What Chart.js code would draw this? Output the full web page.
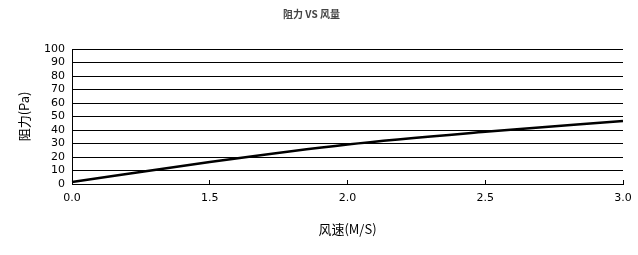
<!DOCTYPE html>
<html>
<head>
<meta charset="utf-8">
<script src="https://cdn.jsdelivr.net/npm/chart.js@4/dist/chart.umd.min.js"></script>
<style>
  html, body { margin: 0; padding: 0; background: #fff; }
  #wrap { width: 638px; height: 255px; }
</style>
</head>
<body>
<div id="wrap"><canvas id="chart"></canvas></div>
<script>
const speeds = ['0.0', '1.5', '2.0', '2.5', '3.0'];
const resistance = [1.5, 16.3, 29.3, 38.7, 46.7];
const yMin = 0;
const yMax = 100;
const yStep = 10;

const cjk = '"Noto Sans CJK SC", "DejaVu Sans", sans-serif';
const num = '"DejaVu Sans", sans-serif';

const ctx = document.getElementById('chart').getContext('2d');
const chart = new Chart(ctx, {
  type: 'line',
  data: {
    labels: speeds,
    datasets: [{
      label: '阻力',
      data: resistance,
      borderColor: '#000',
      backgroundColor: '#000',
      borderWidth: 2.5,
      pointRadius: 0,
      cubicInterpolationMode: 'monotone'
    }]
  },
  options: {
    responsive: true,
    maintainAspectRatio: false,
    animation: false,
    layout: { padding: { left: 0, right: 15, top: 0, bottom: 0 } },
    plugins: {
      legend: { display: false },
      tooltip: { enabled: false },
      title: {
        display: true,
        text: '阻力 VS 风量',
        color: '#444',
        font: { family: cjk, size: 10, weight: 'bold' },
        padding: { top: 8, bottom: 29 }
      }
    },
    scales: {
      x: {
        grid: {
          drawOnChartArea: false,
          color: '#000',
          tickLength: -4,
          lineWidth: 1
        },
        border: { color: '#000', width: 1 },
        ticks: {
          color: '#000',
          font: { family: num, size: 11 },
          padding: 12,
          maxRotation: 0,
          autoSkip: false
        },
        title: {
          display: true,
          text: '风速(M/S)',
          color: '#000',
          font: { family: cjk, size: 13 },
          padding: { top: 0, bottom: 18 }
        },
        afterFit(scale) {
          scale.height = 71;
          scale.paddingLeft = 0;
          scale.paddingRight = 0;
        }
      },
      y: {
        min: yMin,
        max: yMax,
        grid: { color: '#000', lineWidth: 1, drawTicks: false },
        border: { color: '#000', width: 1 },
        ticks: {
          stepSize: yStep,
          autoSkip: false,
          color: '#000',
          font: { family: num, size: 11 },
          padding: 7
        },
        title: {
          display: true,
          text: '阻力(Pa)',
          color: '#000',
          font: { family: cjk, size: 13 },
          padding: { top: 16, bottom: 0 }
        },
        afterFit(scale) { scale.width = 72; }
      }
    }
  }
});
</script>
</body>
</html>
